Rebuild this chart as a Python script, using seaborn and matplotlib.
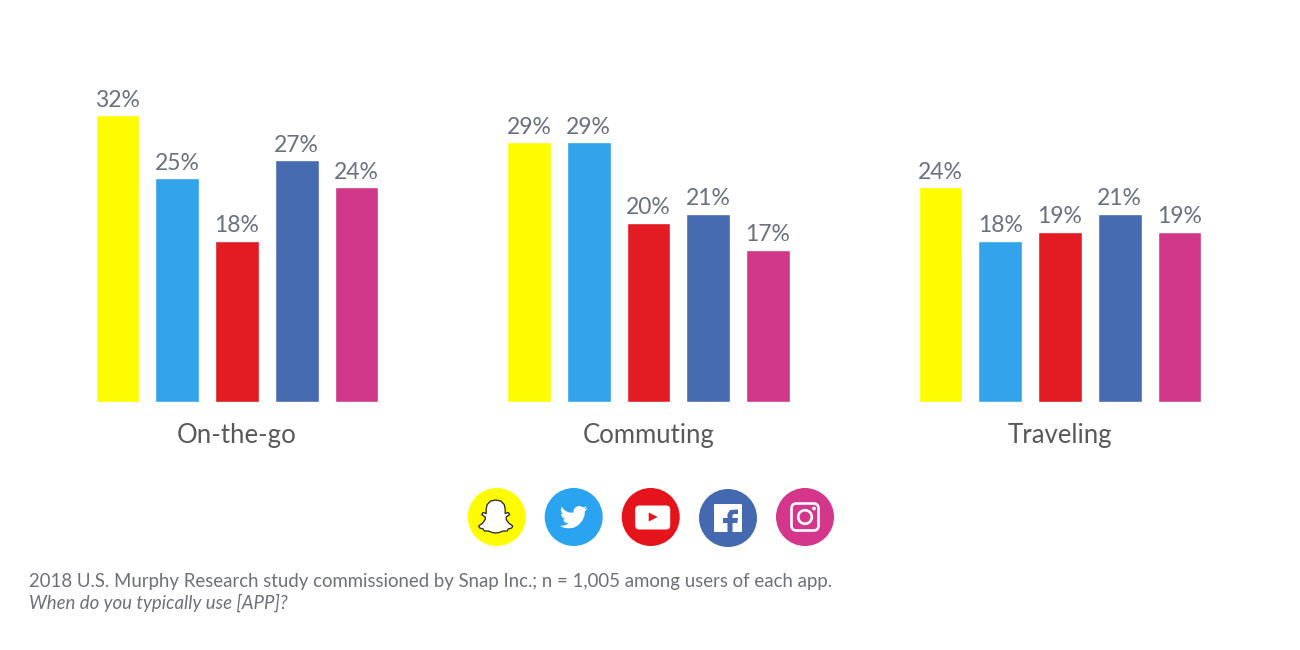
import numpy as np
import pandas as pd
import matplotlib
matplotlib.use('Agg')
import matplotlib.pyplot as plt
from matplotlib.patches import Circle, Polygon, FancyBboxPatch
import seaborn as sns

# values
situations = ['On-the-go', 'Commuting', 'Traveling']
apps = ['Snapchat', 'Twitter', 'YouTube', 'Facebook', 'Instagram']
snapchat = [32, 29, 24]
twitter = [25, 29, 18]
youtube = [18, 20, 19]
facebook = [27, 21, 21]
instagram = [24, 17, 19]

colors = ['#FFFC00', '#33A3EC', '#E31B23', '#466BB0', '#D03788']
icon_colors = ['#FFFC00', '#2AA4F0', '#E5141B', '#4569B0', '#D3368B']
label_color = '#6A7080'
cat_color = '#58595B'
note_color = '#6D7078'

df = pd.DataFrame({'Situation': situations, 'Snapchat': snapchat, 'Twitter': twitter,
                   'YouTube': youtube, 'Facebook': facebook, 'Instagram': instagram})
df = df.melt(id_vars='Situation', var_name='App', value_name='Share')

sns.set_style('white')
plt.rcParams['font.family'] = ['Lato', 'DejaVu Sans']

W, H = 1300, 650
fig = plt.figure(figsize=(W / 100, H / 100), dpi=100)
fig.patch.set_facecolor('white')

# axes spans full width, baseline at y=402px, 8.96px per percent
ax = fig.add_axes([0, (H - 402) / H, 1, 322 / H])
sns.barplot(data=df, x='Situation', y='Share', hue='App', hue_order=apps,
            order=situations, palette=colors, width=0.726, gap=0.265,
            saturation=1, legend=False, ax=ax)
ax.set_xlim(-237 / 411.5, (W - 237) / 411.5)
ax.set_ylim(0, 322 / 8.96)
for c in ax.containers:
    ax.bar_label(c, fmt='%g%%', padding=3.2, fontsize=16.5, color=label_color)
ax.set_xlabel('')
ax.set_ylabel('')
ax.set_yticks([])
ax.tick_params(axis='x', length=0, pad=15, labelsize=18.5, labelcolor=cat_color)
sns.despine(ax=ax, left=True, bottom=True)
ax.patch.set_alpha(0)

# overlay in pixel coordinates for the logo row and the notes
ov = fig.add_axes([0, 0, 1, 1])
ov.set_xlim(0, W)
ov.set_ylim(H, 0)
ov.axis('off')
ov.patch.set_alpha(0)

centers = [(496.7, 517), (573.7, 517), (650.7, 517), (728, 518), (805, 517)]
for (cx, cy), col in zip(centers, icon_colors):
    ov.add_patch(Circle((cx, cy), 29, fc=col, ec='none'))

# snapchat ghost
right = [(0, -17), (5, -16), (8.5, -12.5), (9.5, -8), (9.5, -3.5), (12.5, -4.5), (14, -2.5),
         (10.5, 0), (10.5, 2.5), (13, 6), (17, 9), (16, 11), (12.5, 12), (11.5, 14),
         (7.5, 14), (3.5, 15.5), (0, 16)]
left = [(-x, y) for x, y in right[-2:0:-1]]
cx, cy = centers[0]
ov.add_patch(Polygon([(cx - 1 + x, cy + y) for x, y in right + left], closed=True,
                     fc='white', ec='#222222', lw=0.9, joinstyle='round'))

# twitter bird
bird = [(23.95, 4.57), (21.13, 5.35), (23.29, 2.62), (20.16, 3.81), (18.4, 2.9), (16.5, 2.5),
        (14.2, 3.2), (12.6, 4.8), (11.78, 6.8), (11.9, 8.3), (7.69, 8.1), (4.07, 6.13), (1.64, 3.16),
        (0.97, 5.64), (1.6, 8), (3.16, 9.73), (0.93, 9.12), (0.93, 9.18), (2, 12), (4.88, 14.0),
        (2.67, 14.09), (4.5, 16.6), (7.27, 17.5), (4.5, 19.1), (1.17, 19.61), (0, 19.54),
        (3.5, 21.2), (7.56, 21.75), (12, 21.2), (16, 19), (19.5, 15), (21.2, 11),
        (21.55, 7.77), (21.54, 7.14), (24, 4.59)]
cx, cy = centers[1]
ov.add_patch(Polygon([(cx - 14 + x * 28 / 24, cy - 14 + y * 28 / 24) for x, y in bird],
                     closed=True, fc='white', ec='none'))

# youtube
cx, cy = centers[2]
ov.add_patch(FancyBboxPatch((cx - 12.5, cy - 8.5), 29, 18, boxstyle='round,pad=3,rounding_size=4',
                            fc='white', ec='none'))
ov.add_patch(Polygon([(cx - 2, cy - 4.5), (cx + 7, cy), (cx - 2, cy + 4.5)], closed=True,
                     fc=icon_colors[2], ec='none'))

# facebook
cx, cy = centers[3]
ov.add_patch(FancyBboxPatch((cx - 14, cy - 14), 28, 28, boxstyle='round,pad=0,rounding_size=1',
                            fc='white', ec='none'))
f_shape = [(-0.5, 14), (-0.5, 5), (-5, 5), (-5, 0), (-0.5, 0), (-0.5, -4), (2, -8), (10, -8.5),
           (10, -4), (6, -4), (4.5, -3), (4.5, 0), (10, 0), (9.3, 5), (4.5, 5), (4.5, 14)]
ov.add_patch(Polygon([(cx + x, cy + y) for x, y in f_shape], closed=True, fc=icon_colors[3], ec='none'))

# instagram
cx, cy = centers[4]
ov.add_patch(FancyBboxPatch((cx - 13.5, cy - 13.5), 27, 27, boxstyle='round,pad=0,rounding_size=5',
                            fc='none', ec='white', lw=1.9))
ov.add_patch(Circle((cx, cy), 6.8, fc='none', ec='white', lw=1.9))
ov.add_patch(Circle((cx + 9, cy - 8.5), 1.9, fc='white', ec='none'))

ov.text(29, 582, '2018 U.S. Murphy Research study commissioned by Snap Inc.; n = 1,005 among users of each app.',
        fontsize=13.4, color=note_color, va='center', ha='left')
ov.text(29, 603, 'When do you typically use [APP]?', fontsize=13.4, color=note_color,
        style='italic', va='center', ha='left')

fig.savefig('out.png', dpi=100)
